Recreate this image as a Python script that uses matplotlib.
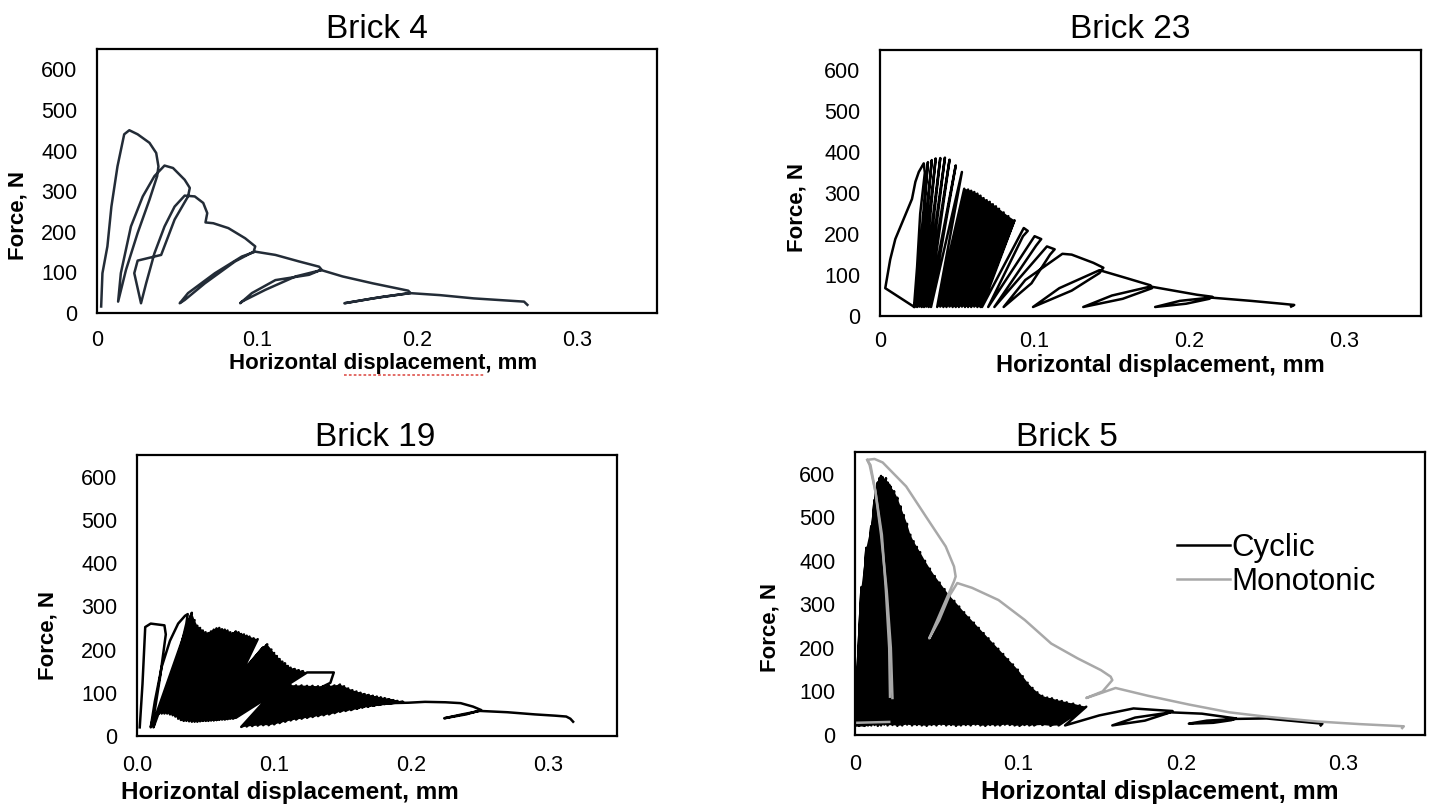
import matplotlib
matplotlib.use('Agg')
import matplotlib.pyplot as plt
from matplotlib.lines import Line2D

plt.rcParams['font.family'] = ['Liberation Sans', 'DejaVu Sans']

# ---------------- data (x = horizontal displacement, mm ; f = force, N) ----------------
# Brick 4 : full hysteresis path
b4_x = [0.0026, 0.0034, 0.0065, 0.0090, 0.0128, 0.0170, 0.0202, 0.0254, 0.0328, 0.0370, 0.0384, 0.0376, 0.0328, 0.0254, 0.0181, 0.0132,
        0.0149, 0.0212, 0.0286, 0.0359, 0.0422, 0.0475, 0.0548, 0.0580, 0.0569,
        0.0485, 0.0401, 0.0254, 0.0233, 0.0275,
        0.0307, 0.0359, 0.0422, 0.0485, 0.0548, 0.0611, 0.0664, 0.0689, 0.0678,
        0.0727, 0.0821, 0.0926, 0.0989, 0.0979,
        0.0863, 0.0674, 0.0548, 0.0517,
        0.0569, 0.0737, 0.0905, 0.0989,
        0.1115, 0.1262, 0.1388, 0.1405,
        0.1241, 0.1052, 0.0905, 0.0895,
        0.0968, 0.1115, 0.1325, 0.1399,
        0.1535, 0.1724, 0.1945, 0.1959,
        0.1787, 0.1546,
        0.1724, 0.1955,
        0.2144, 0.2354, 0.2669, 0.2690]
b4_f = [16, 98, 164, 262, 361, 440, 450, 440, 419, 394, 361, 337, 279, 197, 106, 28,
        98, 213, 287, 337, 363, 357, 328, 308, 287,
        230, 143, 129, 98, 24,
        73, 147, 213, 262, 289, 287, 271, 246, 223,
        221, 209, 184, 164, 151,
        127, 73, 32, 24,
        49, 98, 139, 151,
        143, 127, 114, 106,
        90, 57, 28, 24,
        49, 81, 94, 106,
        90, 73, 55, 49,
        40, 24,
        36, 49,
        44, 36, 28, 20]

# Brick 23 : first loop, tall cycles, dense cycles (residual / top), separate loops
b23_start_x = [0.0218, 0.0034, 0.0066, 0.0099, 0.0153, 0.0207, 0.0229, 0.0251, 0.0283, 0.0290, 0.0260, 0.0240, 0.0220]
b23_start_f = [23, 68, 138, 188, 237, 286, 328, 352, 373, 350, 250, 120, 22]
b23_g1_res_x = [0.0225, 0.0240, 0.0255, 0.0270, 0.0285, 0.0300, 0.0315, 0.0330]
b23_g1_res_f = [22, 22, 23, 22, 22, 23, 22, 22]
b23_g1_top_x = [0.031, 0.0335, 0.036, 0.039, 0.042, 0.045, 0.049, 0.053]
b23_g1_top_f = [376, 381, 385, 386, 387, 382, 368, 352]
b23_g2_res_x = [0.037, 0.039, 0.041, 0.043, 0.045, 0.047, 0.049, 0.051, 0.053, 0.055, 0.057, 0.059, 0.061, 0.063, 0.065]
b23_g2_res_f = [22, 23, 22, 22, 23, 22, 22, 22, 23, 22, 22, 22, 23, 22, 22]
b23_g2_top_x = [0.0545, 0.057, 0.059, 0.061, 0.063, 0.065, 0.067, 0.069, 0.071, 0.073, 0.075, 0.077, 0.080, 0.083, 0.087]
b23_g2_top_f = [311, 309, 306, 303, 299, 294, 288, 283, 279, 273, 268, 262, 253, 244, 234]
b23_tail_x = [0.066, 0.093, 0.0956, 0.0925, 0.070, 0.100, 0.1043, 0.101, 0.074, 0.108, 0.113, 0.110,
              0.098, 0.080, 0.094, 0.118, 0.124, 0.138, 0.1445, 0.142, 0.124, 0.099, 0.116, 0.142,
              0.160, 0.175, 0.176, 0.157, 0.1315, 0.150, 0.175, 0.190, 0.205, 0.215, 0.213, 0.198,
              0.178, 0.194, 0.214, 0.240, 0.260, 0.268, 0.266]
b23_tail_f = [22, 215, 208, 195, 22, 195, 188, 172, 22, 170, 163, 150,
              80, 22, 88, 152, 150, 130, 118, 105, 62, 22, 68, 112,
              92, 75, 68, 42, 22, 50, 72, 62, 52, 47, 42, 30,
              22, 37, 45, 37, 30, 27, 23]

# Brick 19
b19_start_x = [0.002, 0.004, 0.006, 0.010, 0.020, 0.021, 0.017, 0.013, 0.010, 0.013, 0.018, 0.024, 0.030, 0.035, 0.037, 0.036, 0.030, 0.020, 0.012]
b19_start_f = [20, 120, 252, 260, 256, 235, 140, 60, 20, 80, 160, 220, 260, 278, 282, 260, 180, 90, 20]
b19_b1_res_x = [0.014, 0.016, 0.018, 0.020, 0.022, 0.024, 0.026, 0.028, 0.030, 0.032, 0.034, 0.036,
                0.038, 0.040, 0.042, 0.044, 0.046, 0.048, 0.050, 0.052, 0.054, 0.056, 0.058, 0.060]
b19_b1_res_f = [50, 52, 52, 52, 52, 50, 48, 45, 40, 37, 35, 35, 34, 33, 33, 33, 34, 35, 36, 37, 37, 36, 37, 38]
b19_b1_top_x = [0.040, 0.042, 0.044, 0.046, 0.048, 0.050, 0.052, 0.054, 0.056, 0.058, 0.060, 0.062,
                0.064, 0.066, 0.068, 0.070, 0.072, 0.074, 0.076, 0.078, 0.080, 0.082, 0.085, 0.088]
b19_b1_top_f = [285, 268, 255, 250, 244, 240, 238, 242, 246, 249, 250, 247, 246, 244, 240, 238, 242, 240, 236, 235, 232, 230, 226, 224]
b19_b2_res_x = [0.046, 0.048, 0.050, 0.052, 0.054, 0.056, 0.058, 0.060, 0.062, 0.064, 0.066, 0.068, 0.070, 0.072]
b19_b2_res_f = [36, 36, 35, 35, 36, 37, 37, 38, 38, 38, 39, 40, 40, 42]
b19_b2_top_x = [0.092, 0.095, 0.098, 0.100, 0.102, 0.104, 0.106, 0.108, 0.110, 0.112, 0.115, 0.118, 0.121, 0.124]
b19_b2_top_f = [205, 212, 200, 192, 185, 178, 172, 168, 162, 158, 155, 152, 150, 147]
b19_bridge_x = [0.1435, 0.141]
b19_bridge_f = [147, 123]
b19_b3_res_x = [0.076, 0.080, 0.084, 0.088, 0.092, 0.096, 0.100, 0.104, 0.108, 0.112, 0.116, 0.120, 0.124, 0.128,
                0.132, 0.136, 0.140, 0.144, 0.148, 0.152, 0.156, 0.160, 0.164, 0.168, 0.172, 0.176, 0.180, 0.184]
b19_b3_res_f = [21, 22, 23, 24, 25, 25, 27, 30, 33, 36, 38, 40, 42, 44, 46, 48, 50, 53, 56, 58, 60, 63, 66, 68, 70, 72, 74, 76]
b19_b3_top_x = [0.104, 0.108, 0.112, 0.116, 0.120, 0.124, 0.128, 0.132, 0.136, 0.140, 0.144, 0.148, 0.151, 0.154,
                0.157, 0.160, 0.163, 0.166, 0.169, 0.172, 0.175, 0.178, 0.181, 0.184, 0.187, 0.190, 0.194, 0.198]
b19_b3_top_f = [119, 118, 118, 117, 117, 116, 116, 115, 115, 116, 117, 119, 115, 110, 106, 103, 100, 97, 95, 93, 91, 89, 87, 85, 83, 81, 79, 77]
b19_tail_x = [0.210, 0.225, 0.236, 0.245, 0.251, 0.240, 0.224, 0.237, 0.250, 0.270, 0.290, 0.305, 0.313, 0.316, 0.318]
b19_tail_f = [79, 78, 76, 68, 60, 50, 41, 50, 58, 55, 50, 47, 45, 40, 33]

# Brick 5 : cyclic (dense residual / top) and monotonic
b5_res_x = [0.000, 0.000, 0.000, 0.001, 0.0015, 0.002, 0.0025, 0.003, 0.0035, 0.004, 0.0045, 0.005,
            0.0055, 0.006, 0.007, 0.008, 0.009, 0.010, 0.012, 0.014, 0.016, 0.018,
            0.020, 0.023, 0.026, 0.029, 0.032, 0.035, 0.038, 0.041, 0.044, 0.047,
            0.050, 0.053, 0.056, 0.059, 0.062, 0.065, 0.068, 0.071, 0.074, 0.077,
            0.080, 0.083, 0.086, 0.089, 0.092, 0.095, 0.098, 0.101, 0.104, 0.107,
            0.110, 0.115, 0.120, 0.125]
b5_res_f = [22, 23, 24, 22, 23, 22, 21, 23, 22, 24, 22, 23,
            22, 21, 23, 22, 24, 22, 23, 21, 22, 24,
            22, 23, 21, 22, 24, 22, 23, 22, 21, 23,
            22, 24, 22, 23, 21, 22, 23, 22, 24, 22,
            21, 23, 22, 22, 24, 23, 22, 21, 23, 22,
            22, 23, 21, 22]
b5_top_x = [0.004, 0.007, 0.010, 0.012, 0.013, 0.014, 0.015, 0.016, 0.017, 0.018, 0.019, 0.020,
            0.021, 0.022, 0.024, 0.026, 0.028, 0.030, 0.032, 0.034, 0.036, 0.038,
            0.040, 0.043, 0.046, 0.049, 0.052, 0.055, 0.058, 0.061, 0.064, 0.067,
            0.070, 0.073, 0.076, 0.079, 0.082, 0.085, 0.088, 0.091, 0.094, 0.097,
            0.100, 0.103, 0.106, 0.109, 0.112, 0.115, 0.118, 0.121, 0.124, 0.127,
            0.130, 0.134, 0.138, 0.142]
b5_top_f = [340, 430, 480, 540, 565, 580, 590, 595, 592, 585, 590, 580,
            575, 570, 560, 545, 525, 505, 485, 460, 445, 432,
            420, 400, 382, 365, 350, 335, 320, 308, 295, 282,
            270, 258, 246, 234, 222, 210, 198, 186, 174, 162,
            150, 135, 120, 108, 98, 90, 86, 84, 80, 78,
            75, 72, 68, 65]
b5_tail_x = [0.129, 0.150, 0.171, 0.183, 0.195, 0.192, 0.178, 0.158, 0.172, 0.194, 0.213, 0.234, 0.231,
             0.220, 0.205, 0.216, 0.234, 0.2526, 0.270, 0.287, 0.286]
b5_tail_f = [22, 45, 61, 58, 55, 50, 33, 22, 40, 52, 49, 38, 34, 28, 26, 33, 37, 38, 32, 26, 22]
b5_mono_base_x = [0.000, 0.021]
b5_mono_base_f = [28, 30]
b5_mono_x = [0.0215, 0.021, 0.019, 0.0165, 0.0125, 0.0095, 0.0075, 0.012, 0.017, 0.0314, 0.0435, 0.0557,
             0.0608, 0.0618, 0.0608, 0.0496, 0.0456, 0.0517, 0.0577, 0.0628, 0.0719, 0.0881, 0.1043,
             0.1205, 0.1367, 0.151, 0.157, 0.158, 0.152, 0.142, 0.150, 0.160, 0.180, 0.205, 0.230,
             0.2526, 0.284, 0.310, 0.337, 0.336]
b5_mono_f = [88, 200, 330, 460, 560, 620, 632, 634, 626, 571, 502, 433,
             387, 364, 353, 256, 222, 264, 318, 349, 338, 310, 264,
             210, 176, 149, 134, 126, 100, 85, 95, 108, 90, 70, 52,
             42, 31, 25, 20, 16]
b5_mono2_x = [0.023, 0.022, 0.0195, 0.016, 0.0125, 0.009, 0.0075]
b5_mono2_f = [85, 200, 330, 460, 560, 620, 632]

x_ticks = [0, 0.1, 0.2, 0.3]
y_ticks = [0, 100, 200, 300, 400, 500, 600]


def zigzag(res_x, res_f, top_x, top_f):
    xs, fs = [], []
    for a, b, c, d in zip(res_x, res_f, top_x, top_f):
        xs += [a, c]
        fs += [b, d]
    return xs, fs


def block(ax, res_x, res_f, top_x, top_f, color='black'):
    # area swept by a dense group of cycles: reload line, top envelope, residual floor
    px = [res_x[0]] + list(top_x) + list(res_x[:0:-1])
    pf = [res_f[0]] + list(top_f) + list(res_f[:0:-1])
    ax.fill(px, pf, color=color, lw=0)


W, H = 1437, 811
fig = plt.figure(figsize=(W / 100, H / 100), dpi=100)


def make_axes(l, r, t, b):
    return fig.add_axes([l / W, 1 - b / H, (r - l) / W, (b - t) / H])


def style(ax, xticklabels, xpad):
    ax.set_xlim(0, 0.35)
    ax.set_ylim(0, 650)
    ax.set_xticks(x_ticks)
    ax.set_xticklabels(xticklabels)
    ax.set_yticks(y_ticks)
    ax.set_yticklabels([str(v) for v in y_ticks])
    ax.tick_params(axis='both', length=0, labelsize=15.5)
    ax.tick_params(axis='x', pad=xpad)
    ax.tick_params(axis='y', pad=14)
    for s in ax.spines.values():
        s.set_linewidth(1.6)
        s.set_color('black')


def label(x, y, text, **kw):
    return fig.text(x / W, 1 - y / H, text, ha='center', va='center', **kw)


lw = 1.8

# Brick 4
ax1 = make_axes(97, 657, 49, 313)
ax1.plot(b4_x, b4_f, color='#232c37', lw=lw, solid_joinstyle='round')
style(ax1, ['0', '0.1', '0.2', '0.3'], 12)

# Brick 23
ax2 = make_axes(880, 1421, 50, 316)
g1x, g1f = zigzag(b23_g1_res_x, b23_g1_res_f, b23_g1_top_x, b23_g1_top_f)
g2x, g2f = zigzag(b23_g2_res_x, b23_g2_res_f, b23_g2_top_x, b23_g2_top_f)
block(ax2, b23_g2_res_x, b23_g2_res_f, b23_g2_top_x, b23_g2_top_f)
ax2.plot(b23_start_x + g1x + g2x + b23_tail_x, b23_start_f + g1f + g2f + b23_tail_f, color='black', lw=lw,
         solid_joinstyle='round')
style(ax2, ['0', '0.1', '0.2', '0.3'], 11)

# Brick 19
ax3 = make_axes(137, 617, 455, 736)
z1x, z1f = zigzag(b19_b1_res_x, b19_b1_res_f, b19_b1_top_x, b19_b1_top_f)
z2x, z2f = zigzag(b19_b2_res_x, b19_b2_res_f, b19_b2_top_x, b19_b2_top_f)
z3x, z3f = zigzag(b19_b3_res_x, b19_b3_res_f, b19_b3_top_x, b19_b3_top_f)
block(ax3, b19_b1_res_x, b19_b1_res_f, b19_b1_top_x, b19_b1_top_f)
block(ax3, b19_b2_res_x, b19_b2_res_f, b19_b2_top_x, b19_b2_top_f)
block(ax3, b19_b3_res_x, b19_b3_res_f, b19_b3_top_x, b19_b3_top_f)
ax3.plot(b19_start_x + z1x + z2x + b19_bridge_x + z3x + b19_tail_x,
         b19_start_f + z1f + z2f + b19_bridge_f + z3f + b19_tail_f,
         color='black', lw=lw, solid_joinstyle='round')
style(ax3, ['0.0', '0.1', '0.2', '0.3'], 14)

# Brick 5
ax4 = make_axes(855, 1425, 452, 735)
cx, cf = zigzag(b5_res_x, b5_res_f, b5_top_x, b5_top_f)
block(ax4, b5_res_x, b5_res_f, b5_top_x, b5_top_f)
ax4.plot(cx + b5_tail_x, cf + b5_tail_f, color='black', lw=lw, solid_joinstyle='round')
gray = '#a8a8a8'
ax4.plot(b5_mono_base_x, b5_mono_base_f, color=gray, lw=lw)
ax4.plot(b5_mono_x, b5_mono_f, color=gray, lw=lw)
ax4.plot(b5_mono2_x, b5_mono2_f, color=gray, lw=lw)
style(ax4, ['0', '0.1', '0.2', '0.3'], 14)
handles = [Line2D([], [], color='black', lw=lw), Line2D([], [], color=gray, lw=lw)]
ax4.legend(handles, ['Cyclic', 'Monotonic'], loc='center left', bbox_to_anchor=(0.565, 0.6),
           frameon=False, fontsize=22.5, handlelength=1.7, handletextpad=0.05, labelspacing=0.12,
           borderaxespad=0, borderpad=0)

# titles
label(377, 29, 'Brick 4', fontsize=24)
label(1130, 29, 'Brick 23', fontsize=24)
label(375, 437, 'Brick 19', fontsize=24)
label(1067, 437, 'Brick 5', fontsize=24)

# axis titles
xt4 = label(383, 364, 'Horizontal displacement, mm', fontsize=16, fontweight='bold')
label(1160, 366, 'Horizontal displacement, mm', fontsize=17, fontweight='bold')
label(290, 793, 'Horizontal displacement, mm', fontsize=17.5, fontweight='bold')
label(1160, 792, 'Horizontal displacement, mm', fontsize=18.5, fontweight='bold')
label(18, 215, 'Force, N', rotation=90, fontsize=16, fontweight='bold')
label(797, 207, 'Force, N', rotation=90, fontsize=16, fontweight='bold')
label(48, 635, 'Force, N', rotation=90, fontsize=16, fontweight='bold')
label(770, 628, 'Force, N', rotation=90, fontsize=16, fontweight='bold')

# red spell-check underline below "displacement" (as in the reference image)
fig.canvas.draw()
rend = fig.canvas.get_renderer()


def text_width(s):
    tmp = fig.text(0, 0, s, fontsize=16, fontweight='bold')
    w = tmp.get_window_extent(rend).width
    tmp.remove()
    return w


bb = xt4.get_window_extent(rend)
u0 = bb.x0 + text_width('Horizontal d') - text_width('d')
u1 = bb.x0 + text_width('Horizontal displacement')
uy = bb.y0 - 1
fig.add_artist(Line2D([u0 / W, u1 / W], [uy / H, uy / H], transform=fig.transFigure,
                      color='#e0605a', lw=1.3, ls=(0, (1.5, 1.2))))

fig.savefig('out.png', dpi=100)
